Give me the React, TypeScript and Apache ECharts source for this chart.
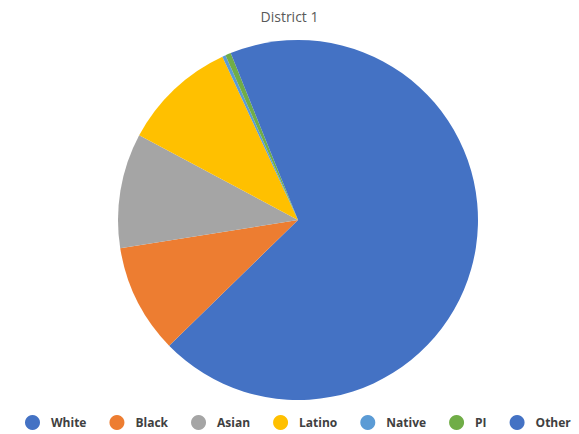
import React, { useEffect, useRef } from "react";
import * as echarts from "echarts";

const categories = ["White", "Black", "Asian", "Latino", "Native", "PI", "Other"];
const values = [62.7, 9.8, 10.3, 10.3, 0.3, 0.5, 6.1];
const colors = ["#4472C4", "#ED7D31", "#A5A5A5", "#FFC000", "#5B9BD5", "#70AD47", "#4472C4"];
const title = "District 1";

export default function App() {
  const ref = useRef<HTMLDivElement>(null);
  useEffect(() => {
    if (!ref.current) return;
    const chart = echarts.init(ref.current, undefined, { renderer: "svg" });
    chart.setOption({
      animation: false,
      title: {
        text: title,
        left: "center",
        top: 4,
        textStyle: { fontFamily: "Open Sans", fontSize: 14, fontWeight: "normal", color: "#595959" },
      },
      legend: {
        data: categories,
        top: 415,
        left: 25,
        width: 554,
        padding: 0,
        icon: "circle",
        itemWidth: 27,
        itemHeight: 15,
        itemGap: 23,
        textStyle: { fontFamily: "Open Sans", fontSize: 12, fontWeight: "bold", color: "#404040" },
      },
      color: colors,
      series: [
        {
          type: "pie",
          center: [298, 220],
          radius: 180,
          startAngle: 90,
          clockwise: true,
          label: { show: false },
          labelLine: { show: false },
          itemStyle: { borderWidth: 0 },
          emphasis: { disabled: true },
          data: categories.map((c, i) => ({ name: c, value: values[i] })),
        },
      ],
    });
    return () => chart.dispose();
  }, []);
  return <div ref={ref} style={{ width: 579, height: 434, position: "absolute", left: 0, top: 0 }} />;
}
